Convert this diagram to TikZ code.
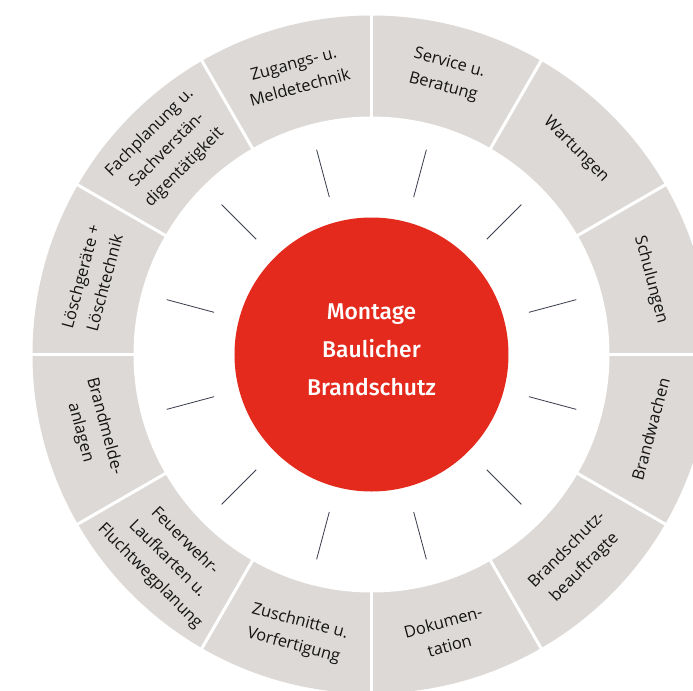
\documentclass[tikz,border=0pt]{standalone}
\usepackage{fontspec}
\setmainfont{Open Sans}
\newfontfamily\hubfont{Fira Sans Medium}
\usepackage{tikz}
\definecolor{ringgray}{HTML}{DCD9D6}
\definecolor{hubred}{HTML}{E42A1D}
\definecolor{tickgray}{HTML}{3B3F4F}
\definecolor{labelink}{HTML}{141414}
\tikzset{
    ring/.style={fill=ringgray},
    divider/.style={white,line width=2.6pt},
    spoke/.style={tickgray,line width=0.7pt},
    seglabel/.style={text=labelink,align=center,inner sep=0pt,font=\fontsize{14}{21}\selectfont},
    hublabel/.style={text=white,align=center,inner sep=0pt,font=\hubfont\fontsize{19.5}{32.5}\selectfont}
}
\begin{document}
\begin{tikzpicture}[x=0.03cm,y=0.03cm]
\useasboundingbox (-371.5,-335.5) rectangle (321.5,354.5);
% ring and gaps
\fill[ring] (0,0) circle (339);
\fill[white] (0,0) circle (238);
\draw[divider] (0:230)--(0:345);
\draw[divider] (30:230)--(30:345);
\draw[divider] (60:230)--(60:345);
\draw[divider] (90:230)--(90:345);
\draw[divider] (120:230)--(120:345);
\draw[divider] (150:230)--(150:345);
\draw[divider] (180:230)--(180:345);
\draw[divider] (210:230)--(210:345);
\draw[divider] (240:230)--(240:345);
\draw[divider] (270:230)--(270:345);
\draw[divider] (300:230)--(300:345);
\draw[divider] (330:230)--(330:345);
% spokes
\draw[spoke] (15:163)--(15:212);
\draw[spoke] (45:163)--(45:212);
\draw[spoke] (75:163)--(75:212);
\draw[spoke] (105:163)--(105:212);
\draw[spoke] (135:163)--(135:212);
\draw[spoke] (165:163)--(165:212);
\draw[spoke] (195:163)--(195:212);
\draw[spoke] (225:163)--(225:212);
\draw[spoke] (255:163)--(255:212);
\draw[spoke] (285:163)--(285:212);
\draw[spoke] (315:163)--(315:212);
\draw[spoke] (345:163)--(345:212);
% centre
\fill[hubred] (0,0) circle (137);
\node[hublabel] (montage) at (0,5) {Montage\\Baulicher\\Brandschutz};
% segment labels
\node[seglabel,rotate=-15] (service) at (75:289) {Service u.\\Beratung};
\node[seglabel,rotate=-45] (wartung) at (45:289) {Wartungen};
\node[seglabel,rotate=-75] (schulung) at (15:289) {Schulungen};
\node[seglabel,rotate=75] (brandwache) at (-15:289) {Brandwachen};
\node[seglabel,rotate=45] (beauftragte) at (-45:289) {Brandschutz-\\beauftragte};
\node[seglabel,rotate=15] (doku) at (-75:289) {Dokumen-\\tation};
\node[seglabel,rotate=-15] (zuschnitt) at (-105:289) {Zuschnitte u.\\Vorfertigung};
\node[seglabel,rotate=-45] (laufkarten) at (-135:289) {Feuerwehr-\\Laufkarten u.\\Fluchtwegplanung};
\node[seglabel,rotate=-75] (brandmelde) at (-165:289) {Brandmelde-\\anlagen};
\node[seglabel,rotate=75] (loesch) at (165:289) {Löschgeräte +\\Löschtechnik};
\node[seglabel,rotate=45] (fachplanung) at (135:289) {Fachplanung u.\\Sachverstän-\\digentätigkeit};
\node[seglabel,rotate=15] (zugang) at (105:289) {Zugangs- u.\\Meldetechnik};
\end{tikzpicture}
\end{document}
